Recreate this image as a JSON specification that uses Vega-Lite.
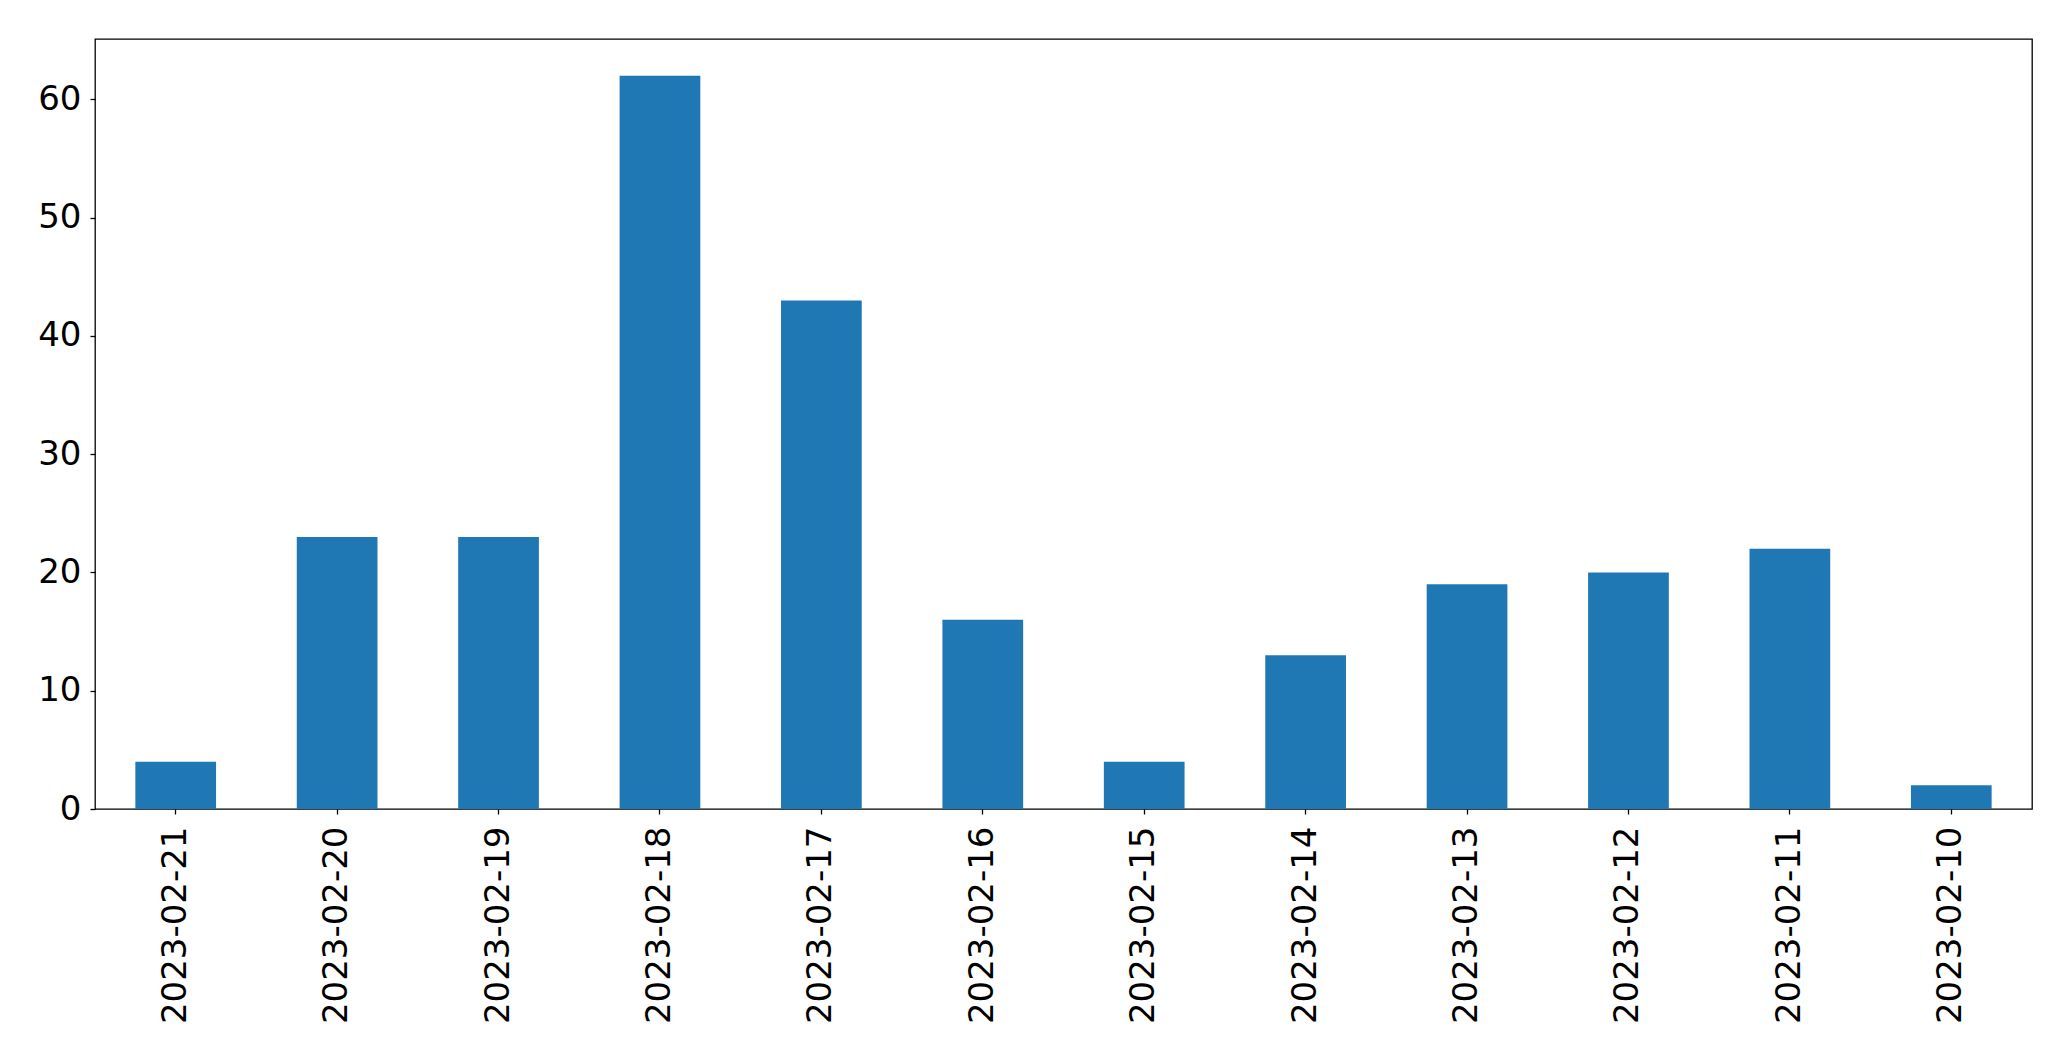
{
  "$schema": "https://vega.github.io/schema/vega-lite/v6.json",
  "autosize": {"type": "none"},
  "padding": {"left": 95, "top": 39, "right": 39, "bottom": 252},
  "width": 1937,
  "height": 770,
  "background": "white",
  "config": {
    "view": {"stroke": "black", "strokeWidth": 1.3, "strokeOpacity": 1},
    "font": "DejaVu Sans"
  },
  "data": {
    "values": [
      {"date": "2023-02-21", "count": 4},
      {"date": "2023-02-20", "count": 23},
      {"date": "2023-02-19", "count": 23},
      {"date": "2023-02-18", "count": 62},
      {"date": "2023-02-17", "count": 43},
      {"date": "2023-02-16", "count": 16},
      {"date": "2023-02-15", "count": 4},
      {"date": "2023-02-14", "count": 13},
      {"date": "2023-02-13", "count": 19},
      {"date": "2023-02-12", "count": 20},
      {"date": "2023-02-11", "count": 22},
      {"date": "2023-02-10", "count": 2}
    ]
  },
  "mark": {"type": "bar", "color": "#1f77b4"},
  "encoding": {
    "x": {
      "field": "date",
      "type": "ordinal",
      "sort": null,
      "scale": {"paddingInner": 0.5, "paddingOuter": 0.25},
      "axis": {
        "title": null,
        "labelAngle": -90,
        "labelAlign": "right",
        "labelBaseline": "middle",
        "labelFontSize": 34,
        "labelLimit": 0,
        "labelColor": "black",
        "labelPadding": 12,
        "tickSize": 5,
        "tickColor": "black",
        "tickWidth": 1.3,
        "domain": false,
        "grid": false
      }
    },
    "y": {
      "field": "count",
      "type": "quantitative",
      "scale": {"domain": [0, 65.1], "nice": false, "zero": true},
      "axis": {
        "title": null,
        "values": [0, 10, 20, 30, 40, 50, 60],
        "labelFontSize": 34,
        "labelColor": "black",
        "labelPadding": 9,
        "tickSize": 5,
        "tickColor": "black",
        "tickWidth": 1.3,
        "domain": false,
        "grid": false
      }
    }
  }
}
